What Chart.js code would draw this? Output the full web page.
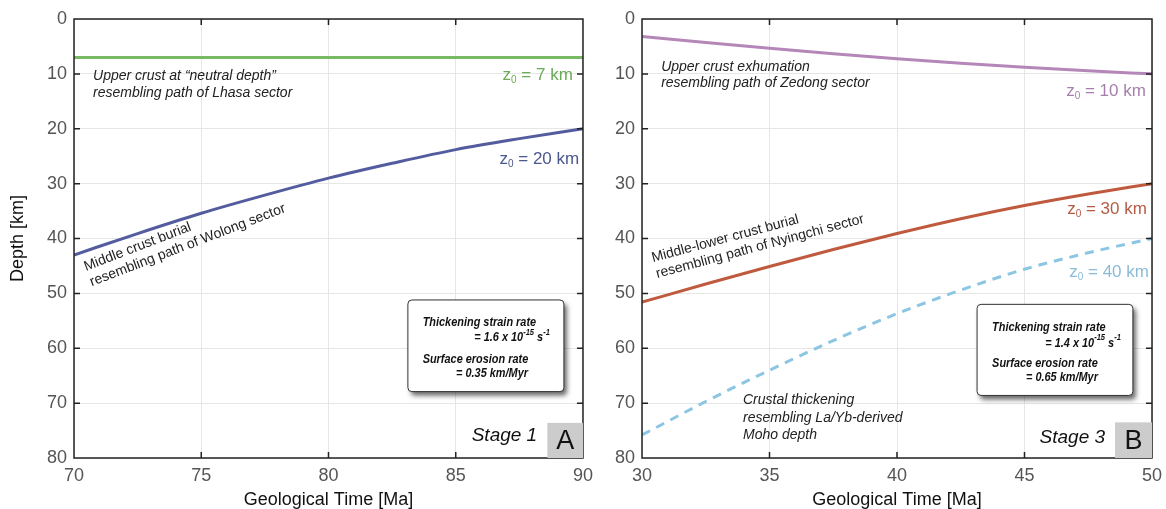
<!DOCTYPE html>
<html>
<head>
<meta charset="utf-8">
<script src="https://cdn.jsdelivr.net/npm/chart.js@4/dist/chart.umd.min.js"></script>
<style>
  html, body { margin: 0; padding: 0; background: #fff; }
  body { width: 1166px; height: 509px; position: relative; overflow: hidden; }
  canvas { position: absolute; top: 0; }
  #chartA { left: 0; }
  #chartB { left: 590px; }
</style>
</head>
<body>
<canvas id="chartA" width="600" height="509"></canvas>
<canvas id="chartB" width="590" height="509"></canvas>
<script>
// Stage 1 (panel A)
const timeA = [70, 72.5, 75, 77.5, 80, 82.5, 85, 87.5, 90];
const lhasaDepth = [7, 7, 7, 7, 7, 7, 7, 7, 7];
const wolongDepth = [43, 39.1, 35.4, 32.1, 29.0, 26.3, 23.8, 21.8, 20];

// Stage 3 (panel B)
const timeB = [30, 32.5, 35, 37.5, 40, 42.5, 45, 47.5, 50];
const zedongDepth = [3.2, 4.3, 5.35, 6.35, 7.25, 8.05, 8.8, 9.45, 10];
const nyingchiDepth = [51.6, 48.3, 45.1, 42.0, 39.1, 36.4, 34.0, 31.9, 30];
const mohoDepth = [75.8, 69.7, 64, 58.6, 53.7, 49.4, 45.6, 42.6, 40];

const FONT = '"Liberation Sans", Arial, Helvetica, sans-serif';

const pts = (xs, ys) => xs.map((x, i) => ({ x: x, y: ys[i] }));

// frame with inward ticks, like the matlab box
const framePlugin = {
  id: 'frame',
  afterDatasetsDraw(chart) {
    const ctx = chart.ctx;
    const a = chart.chartArea;
    const sx = chart.scales.x, sy = chart.scales.y;
    ctx.save();
    ctx.strokeStyle = '#222';
    ctx.lineWidth = 1.5;
    ctx.strokeRect(a.left, a.top, a.right - a.left, a.bottom - a.top);
    ctx.beginPath();
    sy.ticks.forEach(t => {
      if (t.value <= sy.min || t.value >= sy.max) return;
      const y = sy.getPixelForValue(t.value);
      ctx.moveTo(a.left, y); ctx.lineTo(a.left + 6, y);
      ctx.moveTo(a.right, y); ctx.lineTo(a.right - 6, y);
    });
    sx.ticks.forEach(t => {
      if (t.value <= sx.min || t.value >= sx.max) return;
      const x = sx.getPixelForValue(t.value);
      ctx.moveTo(x, a.bottom); ctx.lineTo(x, a.bottom - 6);
      ctx.moveTo(x, a.top); ctx.lineTo(x, a.top + 6);
    });
    ctx.stroke();
    ctx.restore();
  }
};

function drawZ0(ctx, x, y, rest, color) {
  const big = '17px ' + FONT, small = '10px ' + FONT;
  ctx.font = big;
  const wz = ctx.measureText('z').width;
  const wr = ctx.measureText(rest).width;
  ctx.font = small;
  const w0 = ctx.measureText('0').width;
  let cx = x - wz - w0 - wr;
  const base = y + 6;
  ctx.fillStyle = color;
  ctx.textAlign = 'left';
  ctx.textBaseline = 'alphabetic';
  ctx.font = big; ctx.fillText('z', cx, base); cx += wz;
  ctx.font = small; ctx.fillText('0', cx, base + 3); cx += w0;
  ctx.font = big; ctx.fillText(rest, cx, base);
}

// condensed bold italic text, squeezed horizontally
const SQ = 0.84;
function narrowText(ctx, parts, x, y, alignRight) {
  const big = 'italic bold 13px ' + FONT, small = 'italic bold 9px ' + FONT;
  let total = 0;
  parts.forEach(p => { ctx.font = p[1] ? small : big; total += ctx.measureText(p[0]).width; });
  ctx.save();
  ctx.translate(alignRight ? x - total * SQ : x, y);
  ctx.scale(SQ, 1);
  ctx.textAlign = 'left';
  ctx.textBaseline = 'alphabetic';
  let cx = 0;
  parts.forEach(p => {
    ctx.font = p[1] ? small : big;
    ctx.fillText(p[0], cx, p[1] ? -2 : 4.5);
    cx += ctx.measureText(p[0]).width;
  });
  ctx.restore();
}

function makeNotes(notes) {
  return {
    id: 'notes',
    afterDatasetsDraw(chart) {
      const ctx = chart.ctx;
      const sx = chart.scales.x, sy = chart.scales.y;
      const X = v => sx.getPixelForValue(v), Y = v => sy.getPixelForValue(v);
      ctx.save();
      notes.forEach(n => {
        if (n.type === 'text') {
          ctx.font = n.font;
          ctx.fillStyle = n.color || '#222';
          ctx.textAlign = n.align || 'left';
          ctx.textBaseline = 'middle';
          n.lines.forEach((l, i) => ctx.fillText(l, X(n.x), Y(n.y[i])));
        } else if (n.type === 'rotated') {
          ctx.save();
          ctx.translate(X(n.x), Y(n.y));
          ctx.rotate(n.angle * Math.PI / 180);
          ctx.font = n.font;
          ctx.fillStyle = '#222';
          ctx.textAlign = 'left';
          ctx.textBaseline = 'alphabetic';
          n.lines.forEach((l, i) => ctx.fillText(l, 0, i * 16.5));
          ctx.restore();
        } else if (n.type === 'z0') {
          drawZ0(ctx, X(n.x), Y(n.y), n.rest, n.color);
        } else if (n.type === 'box') {
          const x0 = X(n.x0), x1 = X(n.x1), y0 = Y(n.y0), y1 = Y(n.y1);
          ctx.save();
          ctx.shadowColor = 'rgba(0,0,0,0.6)';
          ctx.shadowBlur = 5;
          ctx.shadowOffsetX = 3;
          ctx.shadowOffsetY = 4;
          ctx.beginPath();
          ctx.roundRect(x0, y0, x1 - x0, y1 - y0, 4);
          ctx.fillStyle = '#fff';
          ctx.fill();
          ctx.restore();
          ctx.beginPath();
          ctx.roundRect(x0, y0, x1 - x0, y1 - y0, 4);
          ctx.strokeStyle = '#333';
          ctx.lineWidth = 1;
          ctx.stroke();
          ctx.fillStyle = '#111';
          narrowText(ctx, [['Thickening strain rate', false]], X(n.tx), Y(n.ty[0]), false);
          narrowText(ctx, [['= ' + n.strain + ' x 10', false], ['-15', true], [' s', false], ['-1', true]], X(n.rx1), Y(n.ty[1]), true);
          narrowText(ctx, [['Surface erosion rate', false]], X(n.tx), Y(n.ty[2]), false);
          narrowText(ctx, [['= ' + n.erosion + ' km/Myr', false]], X(n.rx2), Y(n.ty[3]), true);
        } else if (n.type === 'stage') {
          const a = chart.chartArea;
          const bx = X(n.boxX);
          const by = Y(n.boxY);
          ctx.fillStyle = '#cccccc';
          ctx.fillRect(bx, by, a.right - bx, a.bottom - by);
          ctx.fillStyle = '#111';
          ctx.textBaseline = 'middle';
          ctx.textAlign = 'center';
          ctx.font = '27px ' + FONT;
          ctx.fillText(n.letter, (bx + a.right) / 2, (by + a.bottom) / 2 + 1);
          ctx.textAlign = 'right';
          ctx.font = 'italic 19px ' + FONT;
          ctx.fillText(n.stage, X(n.sx), Y(n.sy));
        }
      });
      ctx.restore();
    }
  };
}

function xScale(min, max) {
  return {
    type: 'linear', min: min, max: max,
    ticks: { stepSize: 5, color: '#555', font: { size: 18, family: FONT }, padding: 7, maxRotation: 0, autoSkip: false },
    grid: { color: '#e6e6e6', drawTicks: false },
    border: { display: false },
    title: { display: true, text: 'Geological Time [Ma]', color: '#111', font: { size: 18, family: FONT, lineHeight: 1 }, padding: { top: 0, bottom: 0 } },
    afterFit: s => { s.height = 51; }
  };
}

function yScale(width, withTitle) {
  return {
    type: 'linear', min: 0, max: 80, reverse: true,
    ticks: { stepSize: 10, color: '#555', font: { size: 18, family: FONT }, padding: 7 },
    grid: { color: '#e6e6e6', drawTicks: false },
    border: { display: false },
    title: { display: withTitle, text: 'Depth [km]', color: '#111', font: { size: 18, family: FONT, lineHeight: 1 }, padding: { top: 9, bottom: 0 } },
    afterFit: s => { s.width = width; }
  };
}

function lineSet(data, color, dash) {
  return {
    data: data,
    borderColor: color,
    borderWidth: 3,
    borderDash: dash || [],
    pointRadius: 0,
    cubicInterpolationMode: 'monotone',
    fill: false
  };
}

const notesA = [
  { type: 'text', font: 'italic 14px ' + FONT, x: 70.75, y: [10.4, 13.5],
    lines: ['Upper crust at \u201Cneutral depth\u201D', 'resembling path of Lhasa sector'] },
  { type: 'z0', x: 89.6, y: 10.0, rest: ' = 7 km', color: '#6aab55' },
  { type: 'z0', x: 89.85, y: 25.3, rest: ' = 20 km', color: '#4b5890' },
  { type: 'rotated', font: '14px ' + FONT, x: 70.47, y: 45.9, angle: -21,
    lines: ['Middle crust burial', 'resembling path of Wolong sector'] },
  { type: 'box', x0: 83.12, x1: 89.25, y0: 51.2, y1: 67.9, tx: 83.7, rx1: 88.7, rx2: 87.84,
    ty: [55.2, 57.9, 61.9, 64.5], strain: '1.6', erosion: '0.35' },
  { type: 'stage', boxX: 88.6, boxY: 73.6, letter: 'A', stage: 'Stage 1', sx: 88.2, sy: 76.0 }
];

const notesB = [
  { type: 'text', font: 'italic 14px ' + FONT, x: 30.75, y: [8.76, 11.68],
    lines: ['Upper crust exhumation', 'resembling path of Zedong sector'] },
  { type: 'z0', x: 49.76, y: 12.96, rest: ' = 10 km', color: '#a77fae' },
  { type: 'z0', x: 49.8, y: 34.5, rest: ' = 30 km', color: '#b35b45' },
  { type: 'z0', x: 49.88, y: 46.0, rest: ' = 40 km', color: '#8abcd8' },
  { type: 'rotated', font: '14px ' + FONT, x: 30.43, y: 44.3, angle: -15,
    lines: ['Middle-lower crust burial', 'resembling path of Nyingchi sector'] },
  { type: 'text', font: 'italic 14px ' + FONT, x: 33.96, y: [69.5, 72.8, 75.9],
    lines: ['Crustal thickening', 'resembling La/Yb-derived', 'Moho depth'] },
  { type: 'box', x0: 43.14, x1: 49.25, y0: 52.0, y1: 68.6, tx: 43.73, rx1: 48.78, rx2: 47.88,
    ty: [56.0, 58.9, 62.6, 65.1], strain: '1.4', erosion: '0.65' },
  { type: 'stage', boxX: 48.55, boxY: 73.5, letter: 'B', stage: 'Stage 3', sx: 48.16, sy: 76.3 }
];

const baseOptions = (xMin, xMax, yWidth, withTitle, rightPad) => ({
  responsive: false,
  animation: false,
  layout: { padding: { left: 0, top: 19, right: rightPad, bottom: 0 } },
  plugins: { legend: { display: false }, tooltip: { enabled: false } },
  scales: { x: xScale(xMin, xMax), y: yScale(yWidth, withTitle) }
});

new Chart(document.getElementById('chartA'), {
  type: 'line',
  data: {
    datasets: [
      lineSet(pts(timeA, lhasaDepth), '#78b964'),
      lineSet(pts(timeA, wolongDepth), '#525c9e')
    ]
  },
  options: baseOptions(70, 90, 74, true, 17),
  plugins: [framePlugin, makeNotes(notesA)]
});

new Chart(document.getElementById('chartB'), {
  type: 'line',
  data: {
    datasets: [
      lineSet(pts(timeB, zedongDepth), '#b487b8'),
      lineSet(pts(timeB, nyingchiDepth), '#c05a3f'),
      lineSet(pts(timeB, mohoDepth), '#8cc6e2', [9, 7])
    ]
  },
  options: baseOptions(30, 50, 52, false, 28),
  plugins: [framePlugin, makeNotes(notesB)]
});
</script>
</body>
</html>
